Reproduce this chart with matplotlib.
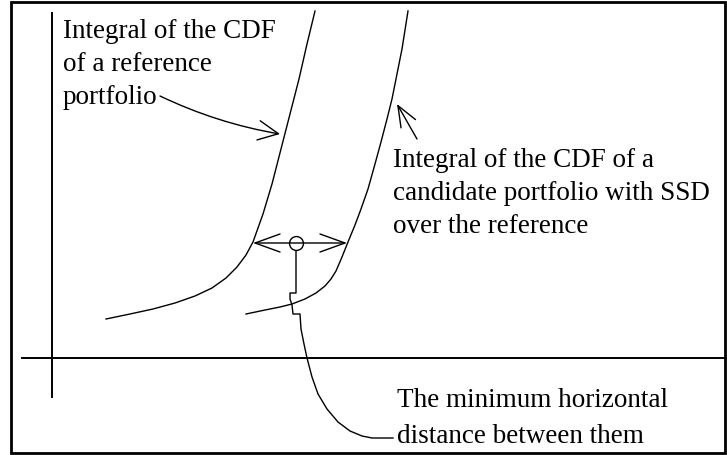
import matplotlib.pyplot as plt
from matplotlib.patches import Rectangle

# everything is laid out in picture units (x right, y down), 727 x 456
W, H = 727, 456

# integral of the CDF, reference portfolio
ref_x = [106, 130, 153, 175, 195, 212, 226, 237, 246, 253, 263, 272, 281, 290, 299, 307, 315]
ref_y = [320, 315, 310, 304, 297, 289, 279, 268, 256, 243, 215, 185, 150, 115, 80, 45, 12]

# integral of the CDF, candidate portfolio (SSD over the reference)
cand_x = [246, 265, 280, 292, 305, 316, 325, 331, 336, 342, 348, 355, 361, 368, 375, 381, 387, 392, 397, 402, 408]
cand_y = [315, 311, 308, 305, 300, 294, 287, 280, 272, 258, 243, 226, 210, 190, 165, 143, 120, 100, 75, 50, 12]

# minimum horizontal gap between the two curves
gap_y = 244
gap_left, gap_right = 253, 347
gap_mid = 296

# hand-drawn leader from the gap marker to the bottom label
link_x = [296, 296, 290, 290, 292, 293, 300, 301, 304, 307, 312, 318, 327, 338, 350, 362, 372, 393]
link_y = [251, 294, 294, 300, 306, 315, 315, 330, 345, 359, 378, 395, 410, 423, 432, 437, 439, 439]

# leaders from the two upper labels
ref_lead_x = [160, 280]
ref_lead_y = [97, 135]
cand_lead_x = [417, 397]
cand_lead_y = [140, 105]

label_ref = ["Integral of the CDF", "of a reference", "portfolio"]
label_cand = ["Integral of the CDF of a", "candidate portfolio with SSD", "over the reference"]
label_gap = ["The minimum horizontal", "distance between them"]

plt.rcParams['font.family'] = ['Liberation Serif', 'DejaVu Serif']

fig = plt.figure(figsize=(W / 100, H / 100), dpi=100)
ax = fig.add_axes([0, 0, 1, 1])
ax.set_xlim(0, W)
ax.set_ylim(H, 0)
ax.axis('off')

# frame
ax.add_patch(Rectangle((11, 3), 714, 451, fill=False, edgecolor='black', linewidth=2.0))

# axes of the sketch
ax.plot([52, 52], [14, 398], color='black', lw=1.4)
ax.plot([22, 726], [359, 359], color='black', lw=1.4)

ax.plot(ref_x, ref_y, color='black', lw=1.0)
ax.plot(cand_x, cand_y, color='black', lw=1.0)

# double arrow with the circle in the middle
ax.annotate('', xy=(gap_left, gap_y), xytext=(gap_right, gap_y),
            arrowprops=dict(arrowstyle='<->,head_length=1.8,head_width=0.65', color='black', lw=1.0,
                            shrinkA=0, shrinkB=0))
ax.plot(link_x, link_y, color='black', lw=1.0)
ax.plot([gap_mid], [gap_y], marker='o', ms=10, mfc='white', mec='black', mew=1.0)

ax.annotate('', xy=(ref_lead_x[1], ref_lead_y[1]), xytext=(ref_lead_x[0], ref_lead_y[0]),
            arrowprops=dict(arrowstyle='->,head_length=1.45,head_width=0.7', color='black', lw=1.0,
                            shrinkA=0, shrinkB=0, connectionstyle='arc3,rad=0.07'))
ax.annotate('', xy=(cand_lead_x[1], cand_lead_y[1]), xytext=(cand_lead_x[0], cand_lead_y[0]),
            arrowprops=dict(arrowstyle='->,head_length=1.5,head_width=0.6', color='black', lw=1.0,
                            shrinkA=0, shrinkB=0))

fs = 19.5
for i, line in enumerate(label_ref):
    ax.text(63, 38 + 33 * i, line, fontsize=fs, va='baseline', ha='left')
for i, line in enumerate(label_cand):
    ax.text(393, 167 + 33 * i, line, fontsize=fs, va='baseline', ha='left')
for i, line in enumerate(label_gap):
    ax.text(397, 407 + 36 * i, line, fontsize=fs, va='baseline', ha='left')

fig.savefig('out.png', dpi=100)
